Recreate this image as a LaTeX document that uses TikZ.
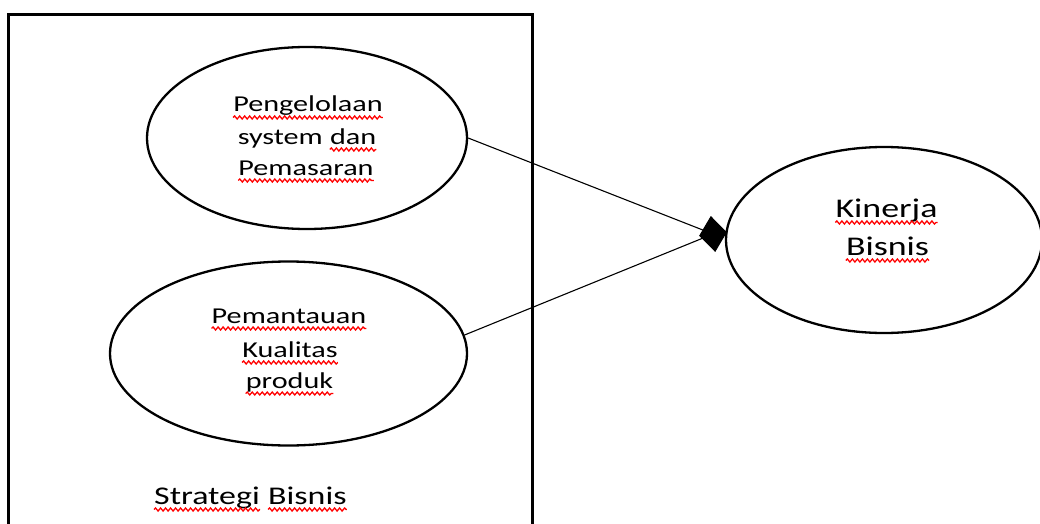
\documentclass[tikz,border=0pt]{standalone}
\usepackage{fontspec}
\usepackage{graphicx}
\newfontfamily\carlito{Carlito}
\usetikzlibrary{shapes.geometric,arrows.meta,decorations.pathmorphing}
\newcommand\sx[1]{\scalebox{1.33}[1]{#1}}
\tikzset{
  bubble/.style={draw=black, line width=2.3pt, ellipse, inner sep=0pt},
  frame/.style={draw=black, line width=3pt},
  wa/.style={inner sep=0pt, anchor=base, text=black, font=\carlito\fontsize{22.7}{27}\selectfont},
  wb/.style={inner sep=0pt, anchor=base, text=black, font=\carlito\fontsize{27}{32}\selectfont},
  wc/.style={inner sep=0pt, anchor=base, text=black, font=\carlito\fontsize{25.5}{30}\selectfont},
  squig/.style={draw=red, line width=1.3pt, decorate, decoration={snake, amplitude=1.5pt, segment length=5pt}},
  link/.style={draw=black, line width=1.1pt},
  tiphead/.style={diamond, draw=black, fill=black, line width=1pt, inner sep=0pt, minimum width=27pt, minimum height=35pt}
}
\newcommand\wave[1]{\draw[squig] ([yshift=-5.5pt]#1.base west) -- ([yshift=-5.5pt]#1.base east);}
\begin{document}
\begin{tikzpicture}[x=1pt,y=-1pt]
\clip (0,0) rectangle (1040,524);
\fill[white] (0,0) rectangle (1040,524);
% frame
\draw[frame] (8.8,14.3) rectangle (532.5,560);
% ellipses
\node[bubble, minimum width=320pt, minimum height=182pt] (e1) at (307,138) {};
\node[bubble, minimum width=357pt, minimum height=184pt] (e2) at (288.5,353.5) {};
\node[bubble, minimum width=316pt, minimum height=186pt] (e3) at (884,240) {};
% texts ellipse 1
\node[wa] (p1) at (308,112) {\sx{Pengelolaan}};
\node[wa, anchor=base east] (p2a) at (323,144) {\sx{system}};
\node[wa, anchor=base west] (p2b) at ([xshift=6.8pt]p2a.base east) {\sx{dan}};
\node[wa] (p3) at (306,175) {\sx{Pemasaran}};
% texts ellipse 2
\node[wa] (q1) at (289,323) {\sx{Pemantauan}};
\node[wa] (q2) at (290,357) {\sx{Kualitas}};
\node[wa] (q3) at (289.5,388) {\sx{produk}};
% texts ellipse 3
\node[wb] (k1) at (886.5,217) {\sx{Kinerja}};
\node[wb] (k2) at (887.5,255) {\sx{Bisnis}};
% frame label
\node[wc, anchor=base west] (s1) at (154,504) {\sx{Strategi}};
\node[wc, anchor=base west] (s2) at ([xshift=8pt]s1.base east) {\sx{Bisnis}};
% wavy underlines
\wave{p1}\wave{p2b}\wave{p3}
\wave{q1}\wave{q2}\wave{q3}
\wave{k1}\wave{k2}
\wave{s1}\wave{s2}
% arrowhead and connectors
\node[tiphead, rotate=7] (tip) at (713,234) {};
\draw[link] (e1.east) -- (tip.center);
\draw[link] (e2.6) -- (tip.center);
\end{tikzpicture}
\end{document}
